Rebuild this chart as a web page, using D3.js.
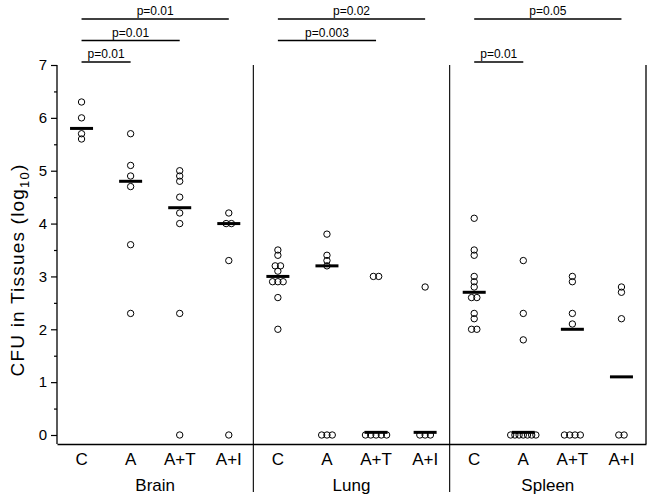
<!DOCTYPE html>
<html>
<head>
<meta charset="utf-8">
<script src="https://cdn.jsdelivr.net/npm/d3@7"></script>
<style>
  html, body { margin: 0; padding: 0; background: #fff; }
  svg { display: block; font-family: "Liberation Sans", Arial, sans-serif; }
</style>
</head>
<body>
<svg id="chart" width="654" height="499"></svg>
<script>
// ---------- data ----------
const organs = ["Brain", "Lung", "Spleen"];
const treatments = ["C", "A", "A+T", "A+I"];

const brainValues = [
  [6.3, 6.0, 5.7, 5.6],
  [5.7, 5.1, 4.9, 4.7, 3.6, 2.3],
  [5.0, 4.9, 4.8, 4.5, 4.2, 4.0, 2.3, 0],
  [4.2, 4.0, 4.0, 3.3, 0]
];
const lungValues = [
  [3.5, 3.4, 3.2, 3.2, 3.1, 2.9, 2.9, 2.9, 2.6, 2.0],
  [3.8, 3.4, 3.3, 3.2, 0, 0, 0],
  [3.0, 3.0, 0, 0, 0, 0, 0],
  [2.8, 0, 0, 0]
];
const spleenValues = [
  [4.1, 3.5, 3.4, 3.0, 2.9, 2.8, 2.6, 2.6, 2.3, 2.2, 2.0, 2.0],
  [3.3, 2.3, 1.8, 0, 0, 0, 0, 0, 0, 0],
  [3.0, 2.9, 2.3, 2.1, 0, 0, 0, 0],
  [2.8, 2.7, 2.2, 0, 0]
];
const brainMedians = [5.8, 4.8, 4.3, 4.0];
const lungMedians = [3.0, 3.2, 0.05, 0.05];
const spleenMedians = [2.7, 0.05, 2.0, 1.1];

const yTicks = [0, 1, 2, 3, 4, 5, 6, 7];
const yMinorTicks = [0.5, 1.5, 2.5, 3.5, 4.5, 5.5, 6.5];

const pOrgans = ["Brain", "Brain", "Brain", "Lung", "Lung", "Spleen", "Spleen"];
const pTargets = ["A+I", "A+T", "A", "A+I", "A+T", "A+I", "A"];
const pLabels = ["p=0.01", "p=0.01", "p=0.01", "p=0.02", "p=0.003", "p=0.05", "p=0.01"];
const pLevels = [0, 1, 2, 0, 1, 0, 2];

const valuesByOrgan = { Brain: brainValues, Lung: lungValues, Spleen: spleenValues };
const mediansByOrgan = { Brain: brainMedians, Lung: lungMedians, Spleen: spleenMedians };

// ---------- layout ----------
const svg = d3.select("#chart");
const left = 57, right = 646, yTop = 65, yZero = 435, axisY = 444;

const y = d3.scaleLinear().domain([0, 7]).range([yZero, yTop]);
const xOrgan = d3.scaleBand().domain(organs).range([left, right]).padding(0);
const xTreat = d3.scaleBand().domain(treatments).range([0, xOrgan.bandwidth()]).padding(0);
const cx = (organ, t) => xOrgan(organ) + xTreat(t) + xTreat.bandwidth() / 2;

// y axis
const yAxis = d3.axisLeft(y).tickValues(yTicks).tickSize(6).tickPadding(4).tickFormat(d3.format("d"));
const gY = svg.append("g").attr("transform", `translate(${left},0)`).call(yAxis);
gY.select(".domain").remove();
gY.selectAll("text").attr("font-size", 15).attr("fill", "#000").attr("font-family", "Liberation Sans, Arial, sans-serif");
gY.selectAll("line").attr("stroke", "#000").attr("stroke-width", 1.2);
const yMinor = d3.axisLeft(y).tickValues(yMinorTicks).tickSize(3).tickFormat("");
const gYm = svg.append("g").attr("transform", `translate(${left},0)`).call(yMinor);
gYm.select(".domain").remove();
gYm.selectAll("line").attr("stroke", "#000").attr("stroke-width", 1.2);

// frame lines
svg.append("line").attr("x1", left).attr("x2", left).attr("y1", y(7)).attr("y2", axisY)
  .attr("stroke", "#000").attr("stroke-width", 1.3);
svg.append("line").attr("x1", right).attr("x2", right).attr("y1", y(7)).attr("y2", axisY)
  .attr("stroke", "#000").attr("stroke-width", 1.3);

// bottom axis line
const xAxis = d3.axisBottom(xOrgan).tickSize(0).tickSizeOuter(0).tickFormat("");
const gX = svg.append("g").attr("transform", `translate(0,${axisY})`).call(xAxis);
gX.select(".domain").attr("stroke", "#000").attr("stroke-width", 1.3);

// dividers between organs
organs.slice(1).forEach(o => {
  svg.append("line").attr("x1", xOrgan(o)).attr("x2", xOrgan(o))
    .attr("y1", y(7)).attr("y2", 492).attr("stroke", "#000").attr("stroke-width", 1.1);
});

// category labels and organ labels
organs.forEach(o => {
  const g = svg.append("g").attr("transform", `translate(${xOrgan(o)},${axisY})`)
    .call(d3.axisBottom(xTreat).tickSize(0).tickPadding(9));
  g.select(".domain").remove();
  g.selectAll("text").attr("font-size", 17).attr("fill", "#000")
    .attr("font-family", "Liberation Sans, Arial, sans-serif");
  svg.append("text").attr("x", xOrgan(o) + xOrgan.bandwidth() / 2).attr("y", 491)
    .attr("text-anchor", "middle").attr("font-size", 17).text(o);
});

// y title
svg.append("text")
  .attr("transform", `translate(24,270) rotate(-90)`)
  .attr("text-anchor", "middle").attr("font-size", 19).attr("letter-spacing", 1.2)
  .call(t => {
    t.append("tspan").text("CFU in Tissues (log");
    t.append("tspan").attr("font-size", 13).attr("dy", 5).text("10");
    t.append("tspan").attr("dy", -5).text(")");
  });

// points
organs.forEach(o => {
  valuesByOrgan[o].forEach((vals, i) => {
    const t = treatments[i];
    const groups = d3.group(vals, v => v);
    const pts = [];
    groups.forEach((arr, v) => {
      const n = arr.length;
      const sp = n >= 7 ? 4.2 : 5.3;
      arr.forEach((_, k) => pts.push({ v, dx: (k - (n - 1) / 2) * sp }));
    });
    svg.append("g").selectAll("circle").data(pts).join("circle")
      .attr("cx", d => cx(o, t) + d.dx)
      .attr("cy", d => y(d.v))
      .attr("r", 3.2)
      .attr("fill", "none")
      .attr("stroke", "#000")
      .attr("stroke-width", 1);
  });
  // median bars
  svg.append("g").selectAll("line").data(mediansByOrgan[o]).join("line")
    .attr("x1", (d, i) => cx(o, treatments[i]) - 11.5)
    .attr("x2", (d, i) => cx(o, treatments[i]) + 11.5)
    .attr("y1", d => y(d)).attr("y2", d => y(d))
    .attr("stroke", "#000").attr("stroke-width", 3);
});

// p-value brackets
const levelY = lv => 19 + lv * 21.5;
pOrgans.forEach((o, i) => {
  const x1 = cx(o, "C"), x2 = cx(o, pTargets[i]);
  const ly = levelY(pLevels[i]);
  svg.append("line").attr("x1", x1).attr("x2", x2).attr("y1", ly).attr("y2", ly)
    .attr("stroke", "#000").attr("stroke-width", 1.3);
  svg.append("text").attr("x", (x1 + x2) / 2).attr("y", ly - 4)
    .attr("text-anchor", "middle").attr("font-size", 12).text(pLabels[i]);
});
</script>
</body>
</html>
